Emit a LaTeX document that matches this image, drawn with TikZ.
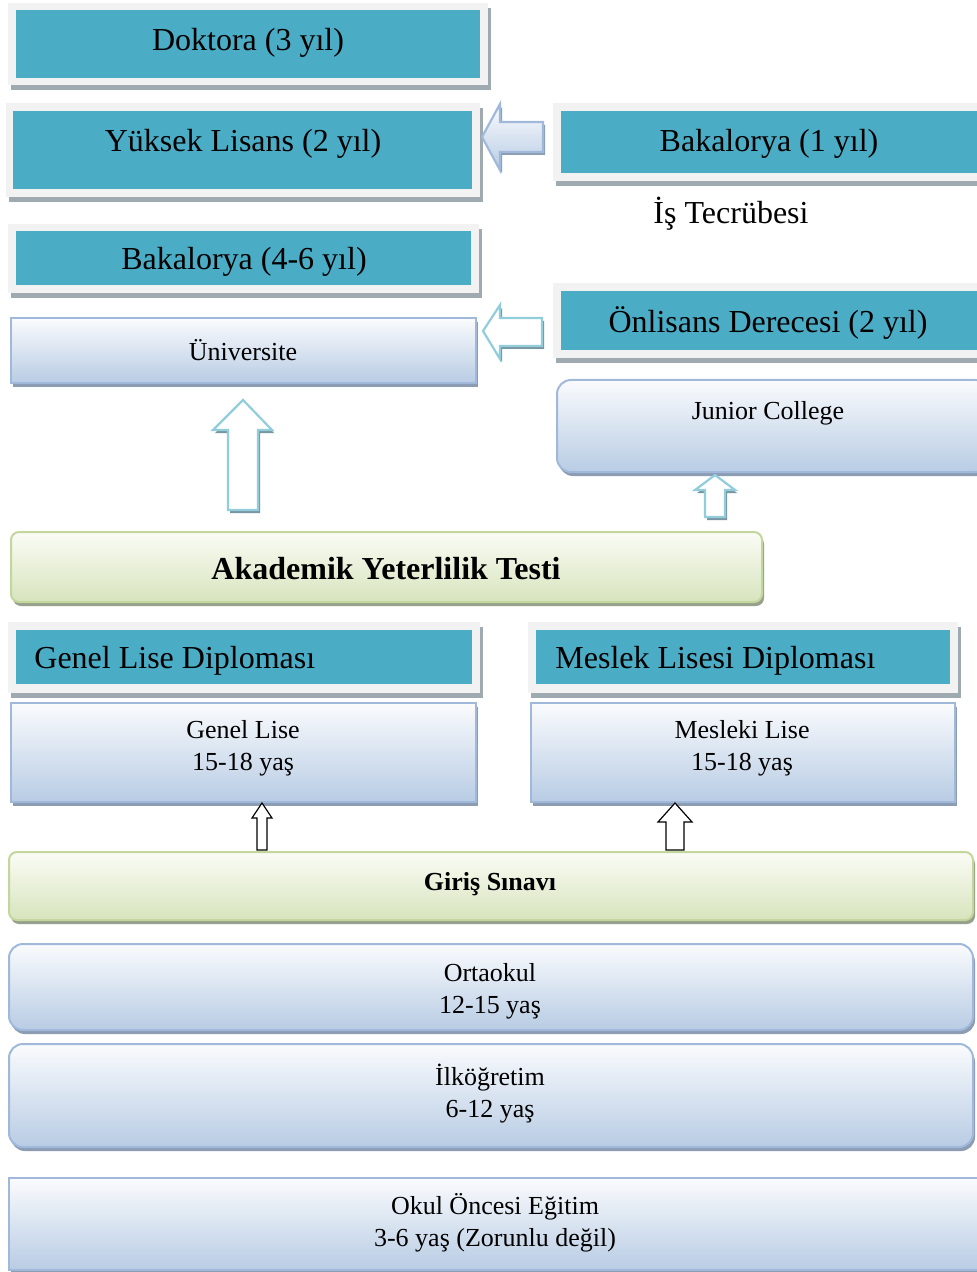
\documentclass[tikz,border=0pt]{standalone}
\usepackage{fontspec}
\setmainfont{Liberation Serif}
\usetikzlibrary{shadows}
\definecolor{tealC}{RGB}{75,172,198}
\definecolor{frameG}{RGB}{242,242,242}
\definecolor{frameSh}{RGB}{158,170,176}
\definecolor{blueBd}{RGB}{160,185,218}
\definecolor{blueTop}{RGB}{250,251,253}
\definecolor{blueBot}{RGB}{184,204,228}
\definecolor{blueSh}{RGB}{140,156,178}
\definecolor{greenBd}{RGB}{195,214,155}
\definecolor{greenTop}{RGB}{251,252,246}
\definecolor{greenBot}{RGB}{215,228,189}
\definecolor{greenSh}{RGB}{150,160,140}
\definecolor{cyanBd}{RGB}{146,205,220}
\definecolor{cyanSh}{RGB}{120,150,160}
\tikzset{
  frm/.style={rectangle, fill=frameG, draw=none, inner sep=0pt, outer sep=0pt,
    drop shadow={shadow xshift=1.5pt, shadow yshift=-2.5pt, fill=frameSh, opacity=1}},
  tealbox/.style={rectangle, fill=tealC, draw=none, inner sep=0pt, outer sep=0pt},
  bbox/.style={rectangle, draw=blueBd, line width=1pt, top color=blueTop, bottom color=blueBot,
    inner sep=0pt, outer sep=0pt,
    drop shadow={shadow xshift=1pt, shadow yshift=-2pt, fill=blueSh, opacity=1}},
  rbox/.style={bbox, rounded corners=7pt},
  gbox/.style={rectangle, rounded corners=4pt, draw=greenBd, line width=1pt,
    top color=greenTop, bottom color=greenBot, inner sep=0pt, outer sep=0pt,
    drop shadow={shadow xshift=1pt, shadow yshift=-2pt, fill=greenSh, opacity=1}},
  headtxt/.style={font=\fontsize{16}{19}\selectfont, inner sep=0pt, yshift=-1.5pt},
  bodytxt/.style={font=\fontsize{13}{16}\selectfont, align=center, inner sep=0pt, yshift=-1.5pt},
  cyanarrow/.style={draw=cyanBd, line width=1.1pt, fill=white, line join=miter,
    drop shadow={shadow xshift=1pt, shadow yshift=-1.5pt, fill=cyanSh, opacity=1}},
  bluearrow/.style={draw=blueBd, line width=1.1pt, top color=blueTop, bottom color=blueBot, line join=miter,
    drop shadow={shadow xshift=1pt, shadow yshift=-1.5pt, fill=blueSh, opacity=1}},
  blackarrow/.style={draw=black, line width=0.6pt, fill=white, line join=miter},
}
\begin{document}
\begin{tikzpicture}[x=0.5pt, y=-0.5pt]
\useasboundingbox (0,0) rectangle (976,1272);
\fill[white] (0,0) rectangle (976,1272);

% Doktora
\node[frm, minimum width=240pt, minimum height=41pt] (dokF) at (248,44) {};
\node[tealbox, minimum width=232pt, minimum height=34pt] (dok) at (248,44) {};
\node[headtxt] (dokT) at (248,40) {Doktora (3 yıl)};

% Yuksek Lisans
\node[frm, minimum width=237pt, minimum height=47pt] (ylF) at (243,150) {};
\node[tealbox, minimum width=229.5pt, minimum height=39pt] (yl) at (242.5,150) {};
\node[headtxt] (ylT) at (243,141) {Yüksek Lisans (2 yıl)};

% Bakalorya 1 yil
\node[frm, minimum width=218.5pt, minimum height=39pt] (bak1F) at (771.5,142) {};
\node[tealbox, minimum width=214.5pt, minimum height=31pt] (bak1) at (775.5,142) {};
\node[headtxt] (bak1T) at (769,141) {Bakalorya (1 yıl)};
\node[headtxt] (is) at (731,211) {İş Tecrübesi};

% Bakalorya 4-6
\node[frm, minimum width=235.5pt, minimum height=34.5pt] (bak4F) at (243.5,258.5) {};
\node[tealbox, minimum width=227.5pt, minimum height=27pt] (bak4) at (243.5,258) {};
\node[headtxt] (bak4T) at (244,259) {Bakalorya (4-6 yıl)};

% Universite
\node[bbox, minimum width=232.5pt, minimum height=32.5pt] (uni) at (243.5,350.5) {};
\node[bodytxt] (uniT) at (243,347) {Üniversite};

% Onlisans
\node[frm, minimum width=218.5pt, minimum height=37.5pt] (onF) at (771.5,320.5) {};
\node[tealbox, minimum width=214.5pt, minimum height=29.5pt] (on) at (775.5,320.5) {};
\node[headtxt] (onT) at (768,320) {Önlisans Derecesi (2 yıl)};

% Junior College
\node[rbox, minimum width=216.5pt, minimum height=46pt] (jc) at (773.5,426) {};
\node[bodytxt] (jcT) at (768,410) {Junior College};

% Akademik Yeterlilik Testi
\node[gbox, minimum width=375.5pt, minimum height=35pt] (ayt) at (386.5,567) {};
\node[headtxt, font=\fontsize{16}{19}\selectfont\bfseries] (aytT) at (386,566) {Akademik Yeterlilik Testi};

% Diplomas
\node[frm, minimum width=236pt, minimum height=35.5pt] (gldF) at (244,657.5) {};
\node[tealbox, minimum width=228pt, minimum height=27pt] (gld) at (244,657) {};
\node[headtxt, anchor=west] (gldT) at (34,658) {Genel Lise Diplomas\i};

\node[frm, minimum width=215pt, minimum height=35.5pt] (mldF) at (743,657.5) {};
\node[tealbox, minimum width=207pt, minimum height=27pt] (mld) at (743,657) {};
\node[headtxt, anchor=west] (mldT) at (555,658) {Meslek Lisesi Diplomas\i};

% Lise boxes
\node[bbox, minimum width=232.5pt, minimum height=49.5pt] (gl) at (243.5,752.5) {};
\node[bodytxt] (glT) at (243,745) {Genel Lise\\15-18 yaş};
\node[bbox, minimum width=212pt, minimum height=49.5pt] (ml) at (743,752.5) {};
\node[bodytxt] (mlT) at (742,745) {Mesleki Lise\\15-18 yaş};

% Giris Sinavi
\node[gbox, minimum width=482pt, minimum height=34pt] (gs) at (491,886) {};
\node[bodytxt, font=\fontsize{13}{16}\selectfont\bfseries] (gsT) at (490,881) {Giriş Sınavı};

% Ortaokul
\node[rbox, minimum width=482pt, minimum height=43pt] (ort) at (491,987) {};
\node[bodytxt] (ortT) at (490,988) {Ortaokul\\12-15 yaş};

% Ilkogretim
\node[rbox, minimum width=482pt, minimum height=51.5pt] (ilk) at (491,1095.5) {};
\node[bodytxt] (ilkT) at (490,1091) {İlköğretim\\6-12 yaş};

% Okul Oncesi
\node[bbox, minimum width=490.5pt, minimum height=46pt] (oo) at (499.5,1224) {};
\node[bodytxt] (ooT) at (495,1220) {Okul Öncesi Eğitim\\3-6 yaş (Zorunlu değil)};

% Block arrows
\path[bluearrow] (482,137) -- (500,104) -- (500,122) -- (543,122) -- (543,152) -- (500,152) -- (500,170) -- cycle;
\path[cyanarrow] (483,331) -- (500,305) -- (500,318) -- (542,318) -- (542,346) -- (500,346) -- (500,359) -- cycle;
\path[cyanarrow] (243,400) -- (272,430) -- (258,430) -- (258,510) -- (228,510) -- (228,430) -- (213,430) -- cycle;
\path[cyanarrow] (715,475) -- (735,490) -- (725,490) -- (725,517) -- (705,517) -- (705,490) -- (695,490) -- cycle;
\path[blackarrow] (262,803) -- (272,818) -- (267,818) -- (267,850) -- (257,850) -- (257,818) -- (252,818) -- cycle;
\path[blackarrow] (675,803) -- (692,822) -- (684,822) -- (684,850) -- (666,850) -- (666,822) -- (658,822) -- cycle;
\end{tikzpicture}
\end{document}
